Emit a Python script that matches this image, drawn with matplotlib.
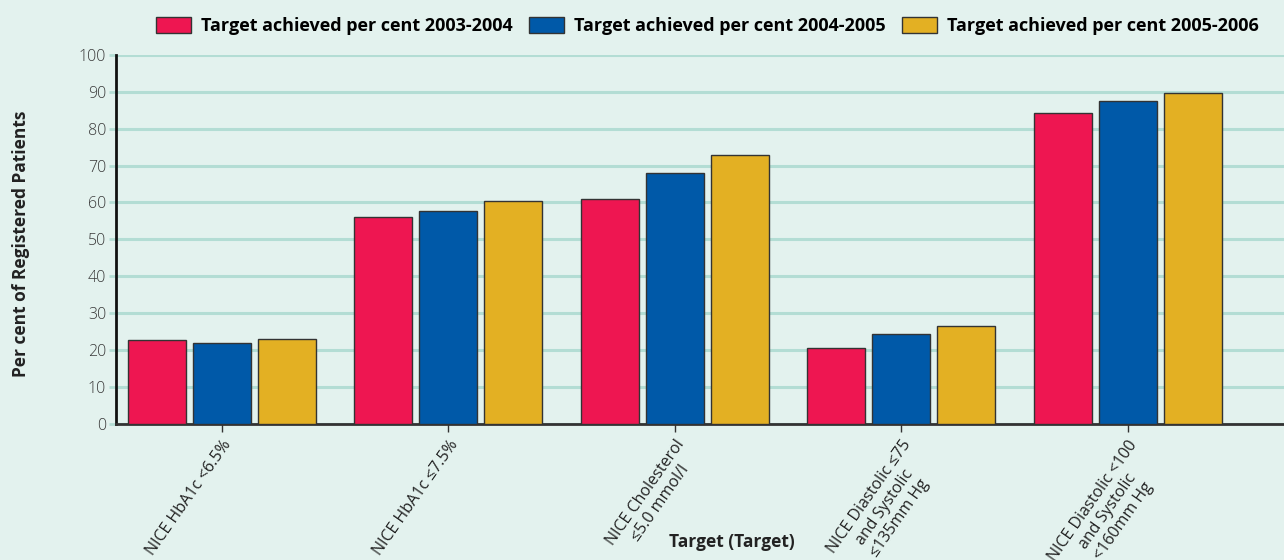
import numpy as np
import matplotlib
matplotlib.use("Agg")
import matplotlib.pyplot as plt

plt.rcParams['font.family'] = ['Open Sans', 'DejaVu Sans']

targets = [
    "NICE HbA1c <6.5%",
    "NICE HbA1c \u22647.5%",
    "NICE Cholesterol\n\u22645.0 mmol/l",
    "NICE Diastolic \u226475\nand Systolic\n\u2264135mm Hg",
    "NICE Diastolic <100\nand Systolic\n<160mm Hg",
]
years = [
    "Target achieved per cent 2003-2004",
    "Target achieved per cent 2004-2005",
    "Target achieved per cent 2005-2006",
]
pct_2003 = [22.8, 56.1, 61.0, 20.6, 84.2]
pct_2004 = [21.9, 57.7, 68.0, 24.3, 87.5]
pct_2005 = [23.0, 60.4, 72.9, 26.4, 89.6]
colors = ["#ee1651", "#0059a8", "#e3b023"]

bg = "#e3f2ee"
grid_c = "#b3ddd4"
fig = plt.figure(figsize=(12.84, 5.6), dpi=100, facecolor=bg)
ax = fig.add_axes([0.0903, 0.243, 0.9097, 0.659], facecolor=bg)

x = np.arange(len(targets))
width = 0.256
step = 0.287
for i, (vals, c, lab) in enumerate(zip([pct_2003, pct_2004, pct_2005], colors, years)):
    ax.bar(x + (i - 1) * step, vals, width, color=c, edgecolor="#333333",
           linewidth=1, label=lab, zorder=3)

ax.set_xlim(-0.468, 4.69)
ax.set_ylim(0, 100)
ax.set_yticks(range(0, 101, 10))
ax.yaxis.grid(True, color=grid_c, linewidth=2.2, zorder=0)
ax.set_axisbelow(True)

for s in ["top", "right"]:
    ax.spines[s].set_visible(False)
ax.spines["left"].set_color("#111111")
ax.spines["left"].set_linewidth(2)
ax.spines["bottom"].set_color("#333333")
ax.spines["bottom"].set_linewidth(2)

ax.tick_params(axis="y", direction="out", length=5, width=2, labelsize=11.5,
               color=grid_c, labelcolor="#3a3a3a", pad=2)
for t in ax.get_yticklabels():
    t.set_fontweight("light")
ax.tick_params(axis="x", direction="out", length=6, width=1, color="#333333")
ax.set_xticks(x)
ax.set_xticklabels(targets, rotation=55, ha="right", va="top",
                   rotation_mode="anchor", multialignment="center",
                   fontsize=11.5, color="#222222")

fig.text(0.016, 0.564, "Per cent of Registered Patients", rotation=90,
         ha="center", va="center", fontsize=12.5, fontweight="bold", color="#222222")
fig.text(0.570, 0.033, "Target (Target)", ha="center", va="center",
         fontsize=12.5, fontweight="bold", color="#222222")

fig.legend(loc="center", bbox_to_anchor=(0.551, 0.953), ncol=3, frameon=False,
           prop={"weight": "bold", "size": 13},
           handlelength=1.95, handleheight=0.95, columnspacing=0.9,
           handletextpad=0.55)

fig.savefig("out.png", dpi=100, facecolor=bg)
